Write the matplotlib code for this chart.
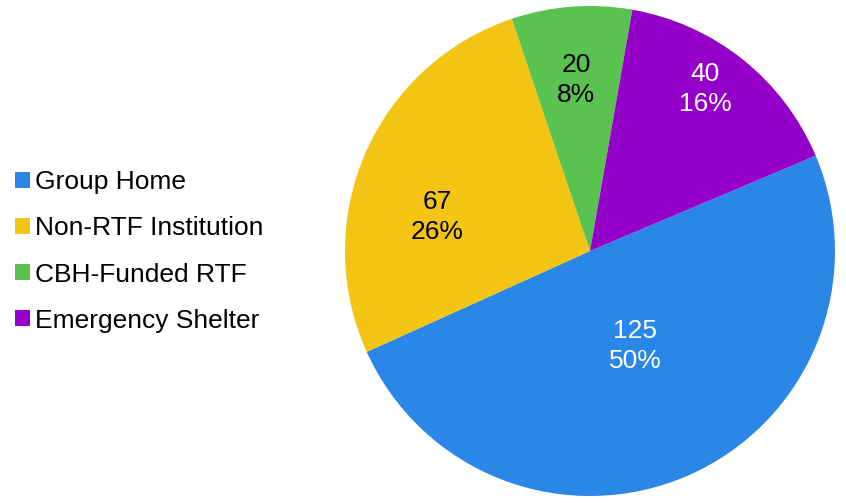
import matplotlib
matplotlib.use("Agg")
import matplotlib.pyplot as plt
import numpy as np

categories = ["Group Home", "Non-RTF Institution", "CBH-Funded RTF", "Emergency Shelter"]
values = [125, 67, 20, 40]
pct_labels = ["50%", "26%", "8%", "16%"]
colors = ["#2A86E7", "#F2C414", "#5AC251", "#9400C7"]
label_colors = ["white", "black", "black", "white"]

plt.rcParams['font.family'] = ['Liberation Sans', 'DejaVu Sans']

W, H = 846, 503
fig = plt.figure(figsize=(W / 100, H / 100), dpi=100)
cx, cy, r = 590, 251, 245
ax = fig.add_axes([(cx - r) / W, (H - cy - r) / H, 2 * r / W, 2 * r / H])
ax.set_aspect('equal')
ax.axis('off')

start = 22.9
wedges, _ = ax.pie(values, colors=colors, startangle=start, counterclock=False,
                   radius=1.0, center=(0, 0), frame=False,
                   wedgeprops=dict(linewidth=0))
ax.set_xlim(-1, 1)
ax.set_ylim(-1, 1)

# label placement (radius, angle shift in degrees from wedge mid)
label_layout = [(0.43, 1.8), (0.64, 11.0), (0.70, 0.3), (0.81, 3.1)]
for w, v, p, c, (rr, shift) in zip(wedges, values, pct_labels, label_colors, label_layout):
    mid = np.deg2rad((w.theta1 + w.theta2) / 2 + shift)
    ax.text(rr * np.cos(mid), rr * np.sin(mid), f"{v}\n{p}", ha='center', va='center',
            fontsize=19, color=c, linespacing=1.3)

leg = fig.legend(wedges, categories, loc='center left', bbox_to_anchor=(15 / W, 1 - 251.5 / H),
                 frameon=False, fontsize=19, handlelength=0.55, handleheight=0.55,
                 handletextpad=0.22, labelspacing=0.84, borderpad=0, borderaxespad=0)

fig.savefig("out.png", dpi=100)
